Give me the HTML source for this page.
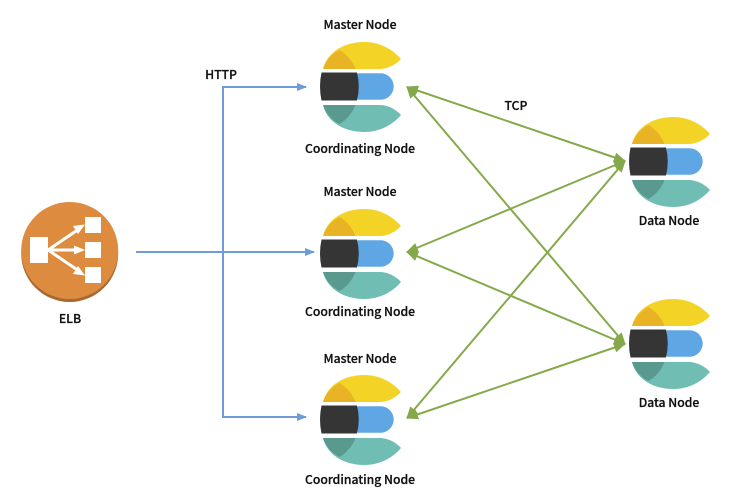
<!DOCTYPE html>
<html><head><meta charset="utf-8"><style>
html,body{margin:0;padding:0;background:#fff}
svg{display:block}
text{font-family:"Noto Sans CJK KR","Liberation Sans",sans-serif;font-size:12.200px;font-weight:500;fill:#111;stroke:#111;stroke-width:.25px;text-anchor:middle}
</style></head><body>
<svg width="746" height="501" viewBox="0 0 746 501" xmlns="http://www.w3.org/2000/svg">
<defs>
<symbol id="es" overflow="visible">
<path d="M3.500 27C7 12 22 0 45 0C60 0 73 7 81.500 17C76 23 68 27 60 27Z" fill="#f4d327"/>
<path d="M3.500 27C6 19 12 12 20 8C27 12 33 19 36 27Z" fill="#e8b324"/>
<path d="M38 31.300H61A13.200 13.200 0 0 1 61 57.700H38Z" fill="#5ea7e4"/>
<path d="M2 30.500H37.500Q41 44.500 37.500 58.500H2Q-1 44.500 2 30.500Z" fill="#353535"/>
<path d="M3.500 63C7 78 22 90 45 90C60 90 73 83 81.500 73C76 67 68 63 60 63Z" fill="#70bdb4"/>
<path d="M3.500 63C6 71 12 78 20 82C27 78 33 71 36 63Z" fill="#5a9a8e"/>
</symbol>
<marker id="b" markerWidth="10" markerHeight="8" refX="9" refY="4" orient="auto" markerUnits="userSpaceOnUse"><path d="M0 0L10 4L0 8Z" fill="#6f9bd8"/></marker>
<marker id="g" markerWidth="12" markerHeight="10" refX="11" refY="5" orient="auto-start-reverse" markerUnits="userSpaceOnUse"><path d="M0 0L12 5L0 10Z" fill="#85a94a"/></marker>
</defs>

<circle cx="69.700" cy="253.500" r="48.500" fill="#a56a33"/>
<circle cx="69.700" cy="250.500" r="48.500" fill="#dd8c3f"/>
<g fill="#fff">
<rect x="30" y="237" width="18" height="26"/>
<rect x="85" y="217" width="16" height="16"/>
<rect x="85" y="242" width="16" height="16"/>
<rect x="85" y="267" width="16" height="16"/>
</g>
<g stroke="#fff" stroke-width="3" fill="none">
<path d="M48 250L79 229M48 250H78M48 250L79 271"/>
</g>
<g fill="#fff">
<path d="M85 224.500L73 226L78 234Z"/><path d="M85 250L74 245.500V254.500Z"/><path d="M85 275.500L73 274L78 266Z"/>
</g>

<g fill="none" stroke="#6f9bd8" stroke-width="2">
<path d="M136 252H314" marker-end="url(#b)"/>
<path d="M223 252V87H306" marker-end="url(#b)"/>
<path d="M223 252V417H306" marker-end="url(#b)"/>
</g>

<g stroke="#85a94a" stroke-width="2" fill="none">
<path d="M407 87L625 161" marker-start="url(#g)" marker-end="url(#g)"/>
<path d="M407 87L625 344" marker-start="url(#g)" marker-end="url(#g)"/>
<path d="M407 252L625 161" marker-start="url(#g)" marker-end="url(#g)"/>
<path d="M407 252L625 344" marker-start="url(#g)" marker-end="url(#g)"/>
<path d="M407 418L625 161" marker-start="url(#g)" marker-end="url(#g)"/>
<path d="M407 418L625 344" marker-start="url(#g)" marker-end="url(#g)"/>
</g>

<use href="#es" x="319.500" y="42"/>
<use href="#es" x="319.500" y="209"/>
<use href="#es" x="319.500" y="375"/>
<use href="#es" x="628.500" y="117"/>
<use href="#es" x="628.500" y="299"/>

<text x="360" y="29">Master Node</text>
<text x="360" y="153">Coordinating Node</text>
<text x="360" y="196">Master Node</text>
<text x="360" y="316">Coordinating Node</text>
<text x="360" y="363">Master Node</text>
<text x="360" y="484">Coordinating Node</text>
<text x="669" y="225">Data Node</text>
<text x="669" y="407">Data Node</text>
<text x="70" y="323">ELB</text>
<text x="221" y="79">HTTP</text>
<text x="516" y="110">TCP</text>
</svg>
</body></html>
